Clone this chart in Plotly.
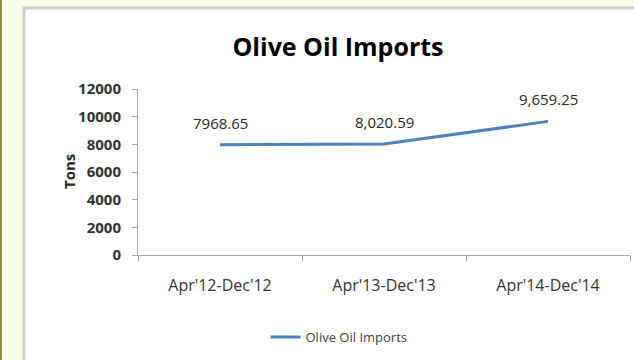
import plotly.graph_objects as go

categories = ["Apr'12-Dec'12", "Apr'13-Dec'13", "Apr'14-Dec'14"]
imports_tons = [7968.65, 8020.59, 9659.25]
value_labels = ["7968.65", "8,020.59", "9,659.25"]
y_ticks = [0, 2000, 4000, 6000, 8000, 10000, 12000]

W, H = 634, 360
L, R, T, B = 138, 4, 89, 105
PW, PH = W - L - R, H - T - B

def px_x(px):
    return (px - L) / PW

def px_y(py):
    return (H - B - py) / PH

fig = go.Figure()
fig.add_trace(go.Scatter(
    x=categories, y=imports_tons, mode="lines", name="Olive Oil Imports",
    line=dict(color="#4F81BD", width=3), hoverinfo="skip"))

for c, v, t in zip(categories, imports_tons, value_labels):
    fig.add_annotation(x=c, y=v, text=t, showarrow=False, yshift=22,
                       font=dict(family="Open Sans", size=15, color="#262626"))

fig.add_annotation(xref="paper", yref="paper", x=px_x(57), y=px_y(172),
                   text="<b>Tons</b>", textangle=-90, showarrow=False,
                   font=dict(family="Open Sans", size=15, color="#262626"))

shapes = [
    dict(type="rect", xref="paper", yref="paper", x0=px_x(24), x1=px_x(660),
         y0=px_y(400), y1=px_y(8), fillcolor="white",
         line=dict(color="#cdcdcd", width=3), layer="below"),
    dict(type="rect", xref="paper", yref="paper", x0=px_x(0), x1=px_x(2),
         y0=px_y(400), y1=px_y(-20), fillcolor="#8c8c3c",
         line=dict(width=0), layer="below"),
]

fig.update_layout(
    width=W, height=H,
    margin=dict(l=L, r=R, t=T, b=B),
    paper_bgcolor="#fafbe9", plot_bgcolor="rgba(0,0,0,0)",
    shapes=shapes,
    title=dict(text="<b>Olive Oil Imports</b>", x=338 / W, xanchor="center",
               y=1 - 47 / H, yanchor="middle", yref="container",
               font=dict(family="Open Sans", size=25, color="#000000")),
    showlegend=True,
    legend=dict(orientation="h", xref="container", yref="container",
                x=339 / W, xanchor="center", y=1 - 337 / H, yanchor="middle",
                font=dict(family="Open Sans", size=13, color="#404040"),
                bgcolor="rgba(0,0,0,0)"),
    font=dict(family="Open Sans"),
)
fig.update_xaxes(type="category", range=[-0.5, 2.5], showline=True,
                 linecolor="#a6a6a6", linewidth=1, ticks="outside",
                 tickson="boundaries", ticklen=5, tickcolor="#a6a6a6",
                 showgrid=False, zeroline=False, ticklabelstandoff=16,
                 tickfont=dict(family="Open Sans", size=16, color="#333333"))
fig.update_yaxes(range=[0, 12000], tickvals=y_ticks, tickformat="d",
                 showline=True, linecolor="#a6a6a6", linewidth=1,
                 ticks="outside", ticklen=5, tickcolor="#a6a6a6",
                 showgrid=False, zeroline=False, ticklabelstandoff=8,
                 tickfont=dict(family="Open Sans", size=15, color="#333333",
                               weight="bold"))

fig.write_html("out.html", config={"displayModeBar": False},
               post_script="document.body.style.margin='0';document.body.style.overflow='hidden';")
